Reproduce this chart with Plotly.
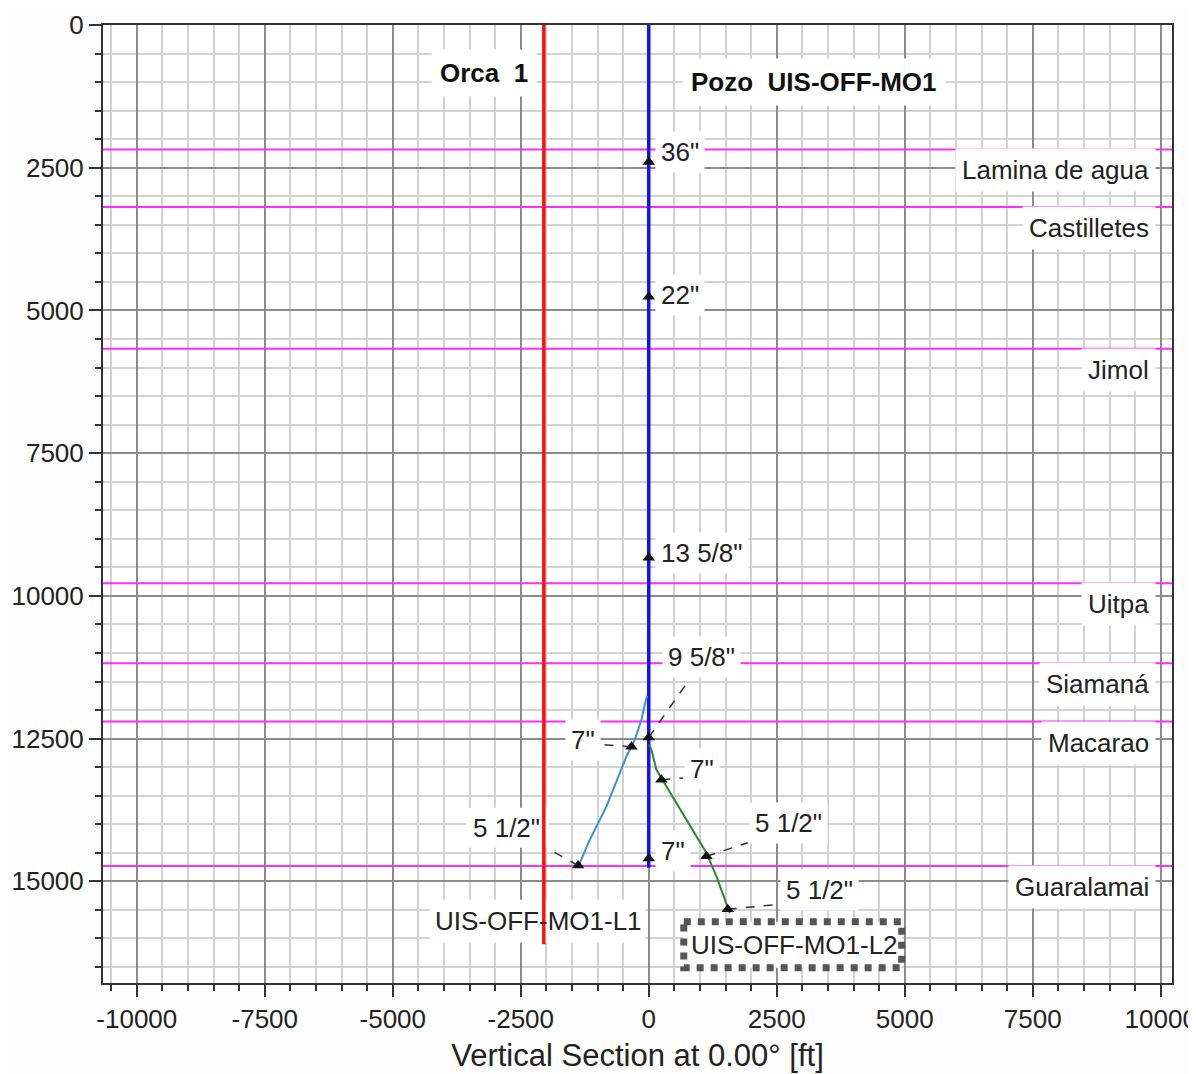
import plotly.graph_objects as go

# ---------------- data ----------------
x_ticks = [-10000, -7500, -5000, -2500, 0, 2500, 5000, 7500, 10000]
x_tick_labels = ["-10000", "-7500", "-5000", "-2500", "0", "2500", "5000", "7500", "10000"]
y_ticks = [0, 2500, 5000, 7500, 10000, 12500, 15000]
y_tick_labels = ["0", "2500", "5000", "7500", "10000", "12500", "15000"]

formation_names = ["Lamina de agua", "Castilletes", "Jimol", "Uitpa", "Siamaná", "Macarao", "Guaralamai"]
formation_tops = [2180, 3190, 5670, 9780, 11180, 12200, 14730]

orca_vs = [-2050, -2050]
orca_md = [0, 16100]

main_vs = [0, 0]
main_md = [0, 14760]

l1_vs = [-30, -64, -143, -273, -436, -826, -1152, -1315, -1380]
l1_md = [11750, 11850, 12170, 12520, 12812, 13687, 14270, 14621, 14749]

l2_vs = [10, 52, 150, 345, 671, 931, 1127, 1322, 1517, 1582]
l2_md = [12600, 12695, 13045, 13337, 13803, 14213, 14504, 14913, 15380, 15554]

casing_labels = ['36"', '22"', '13 5/8"', '9 5/8"', '7"', '7"', '7"', '5 1/2"', '5 1/2"', '5 1/2"']
casing_vs = [0, 0, 0, 0, -338, 247, 0, -1380, 1127, 1543]
casing_md = [2400, 4760, 9330, 12480, 12640, 13220, 14600, 14720, 14560, 15490]

# ---------------- label placement (layout) ----------------
casing_label_pos = [
    (120, 2224, "left"), (120, 4728, "left"), (120, 9245, "left"), (254, 11066, "left"),
    (-940, 12520, "right"), (690, 13027, "left"), (120, 14463, "left"),
    (-2080, 14060, "right"), (1950, 13973, "left"), (2560, 15146, "left"),
]
casing_label_boxed = [True, True, True, True, True, True, True, False, True, True]
casing_leader_end = [
    None, None, None, (762, 11504),
    (-898, 12607), (670, 13190), None,
    (-1934, 14446), (1934, 14323), (2461, 15409),
]

FONT = "Liberation Sans, Arial, sans-serif"
TXT = "#222222"

fig = go.Figure()

# formation tops
for name, top in zip(formation_names, formation_tops):
    fig.add_trace(go.Scatter(x=[-10660, 10220], y=[top, top], mode="lines",
                             line=dict(color="#ff2bff", width=2), hoverinfo="skip", showlegend=False))

# wells
fig.add_trace(go.Scatter(x=orca_vs, y=orca_md, mode="lines", line=dict(color="#ff1010", width=3.5),
                         showlegend=False))
fig.add_trace(go.Scatter(x=main_vs, y=main_md, mode="lines", line=dict(color="#1010ff", width=3.5),
                         showlegend=False))
fig.add_trace(go.Scatter(x=l1_vs, y=l1_md, mode="lines", line=dict(color="#3a93d3", width=2),
                         showlegend=False))
fig.add_trace(go.Scatter(x=l2_vs, y=l2_md, mode="lines", line=dict(color="#2a8a2a", width=2),
                         showlegend=False))

# leaders
for (cx, cy), end in zip(zip(casing_vs, casing_md), casing_leader_end):
    if end is None:
        continue
    fig.add_trace(go.Scatter(x=[cx, end[0]], y=[cy, end[1]], mode="lines",
                             line=dict(color="#333333", width=1.5, dash="dash"), showlegend=False))

# casing shoes
fig.add_trace(go.Scatter(x=casing_vs, y=casing_md, mode="markers",
                         marker=dict(symbol="triangle-up", size=11, color="#111111"), showlegend=False))

annotations = []
for lab, (ax_, ay_, anc), boxed in zip(casing_labels, casing_label_pos, casing_label_boxed):
    annotations.append(dict(x=ax_, y=ay_, xref="x", yref="y", text=lab, showarrow=False,
                            xanchor=anc, yanchor="middle",
                            bgcolor="white" if boxed else None, borderpad=5 if boxed else 1,
                            font=dict(family=FONT, size=26, color=TXT)))

for name, top in zip(formation_names, formation_tops):
    annotations.append(dict(x=9900, y=top, xref="x", yref="y", text=name, showarrow=False,
                            xanchor="right", yanchor="top", yshift=1, bgcolor="white", borderpad=6,
                            font=dict(family=FONT, size=26, color=TXT)))

annotations.append(dict(x=-3223, y=840, xref="x", yref="y", text="<b>Orca  1</b>", showarrow=False,
                        bgcolor="white", borderpad=8, font=dict(family=FONT, size=26, color="#111")))
annotations.append(dict(x=3223, y=998, xref="x", yref="y", text="<b>Pozo  UIS-OFF-MO1</b>", showarrow=False,
                        bgcolor="white", borderpad=8, font=dict(family=FONT, size=26, color="#111")))
annotations.append(dict(x=-2158, y=15689, xref="x", yref="y", text="UIS-OFF-MO1-L1", showarrow=False,
                        font=dict(family=FONT, size=26, color=TXT)))
annotations.append(dict(x=2852, y=16109, xref="x", yref="y", text="UIS-OFF-MO1-L2", showarrow=False,
                        font=dict(family=FONT, size=26, color=TXT)))

shapes = [
    dict(type="rect", xref="x", yref="y", x0=-4277, x1=-78, y0=15321, y1=16074,
         fillcolor="white", line=dict(width=0), layer="between"),
    dict(type="rect", xref="x", yref="y", x0=-3574, x1=-1953, y0=13710, y1=14411,
         fillcolor="white", line=dict(width=0), layer="between"),
    dict(type="rect", xref="x", yref="y", x0=684, x1=4941, y0=15707, y1=16512,
         fillcolor="white", line=dict(color="#555555", width=7, dash="dot"), layer="above"),
]

axis_common = dict(
    tickmode="array", ticks="outside", ticklen=12, tickwidth=2, tickcolor="#333333",
    showgrid=True, gridcolor="#8c8c8c", gridwidth=1.5,
    showline=True, linecolor="#333333", linewidth=2, mirror=True, zeroline=False,
    automargin=False, ticklabeloverflow="allow",
    tickfont=dict(family=FONT, size=26, color=TXT),
    minor=dict(tickmode="linear", tick0=0, dtick=500, ticks="outside", ticklen=6, tickwidth=2,
               tickcolor="#333333", showgrid=True, gridcolor="#d2d2d2", gridwidth=1.5),
)

fig.update_layout(
    width=1188, height=1066,
    margin=dict(l=95, r=24, t=17, b=91),
    paper_bgcolor="#fdfdfd", plot_bgcolor="white",
    showlegend=False,
    xaxis=dict(range=[-10660, 10220], tickvals=x_ticks, ticktext=x_tick_labels,
               title=dict(text="Vertical Section at 0.00° [ft]", standoff=11,
                          font=dict(family=FONT, size=31, color=TXT)),
               **axis_common),
    yaxis=dict(range=[16780, 0], tickvals=y_ticks, ticktext=y_tick_labels, **axis_common),
    annotations=annotations,
    shapes=shapes,
)

fig.write_html("out.html")
